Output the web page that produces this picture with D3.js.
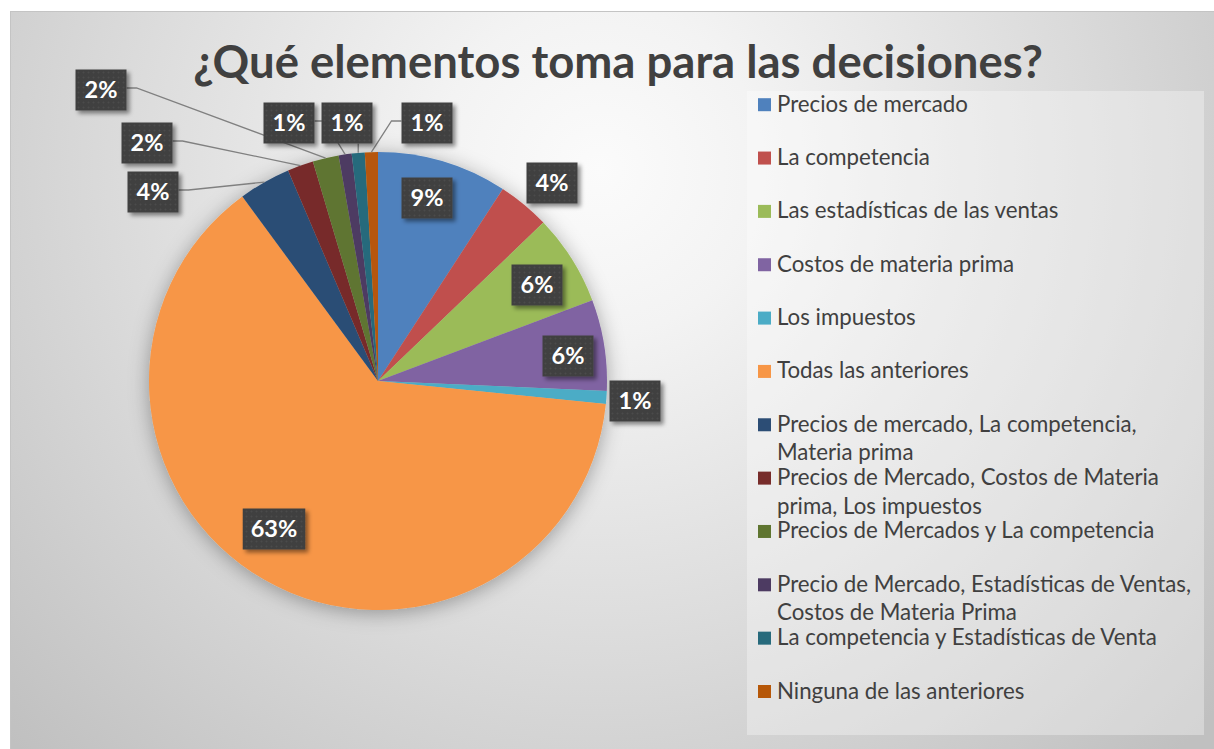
<!DOCTYPE html>
<html><head><meta charset="utf-8">
<script src="https://cdn.jsdelivr.net/npm/d3@7"></script>
<style>html,body{margin:0;padding:0;background:#fff;overflow:hidden}</style>
</head><body>
<svg id="chart" width="1214" height="749"></svg>
<script>
// ---------- data ----------
const title = "¿Qué elementos toma para las decisiones?";
const categories = [
  "Precios de mercado",
  "La competencia",
  "Las estadísticas de las ventas",
  "Costos de materia prima",
  "Los impuestos",
  "Todas las anteriores",
  "Precios de mercado, La competencia, Materia prima",
  "Precios de Mercado, Costos de Materia prima, Los impuestos",
  "Precios de Mercados y La competencia",
  "Precio de Mercado, Estadísticas de Ventas, Costos de Materia Prima",
  "La competencia y Estadísticas de Venta",
  "Ninguna de las anteriores"
];
const counts = [10, 4, 7, 7, 1, 69, 4, 2, 2, 1, 1, 1];
const colors = ["#4F81BD","#C0504D","#9BBB59","#8064A2","#4BACC6","#F79646",
                "#2C4D75","#772C2A","#5F7530","#4D3B62","#276A7C","#B65708"];

// ---------- layout ----------
const W = 1214, H = 749;
const cx = 378, cy = 381, R = 229;
const labelOffset = [[49,-183],[174,-198],[159,-96],[190,-25],[257,20],[-104,148],
                     [-225,-189],[-231,-238],[-277,-291],[-89,-258],[-31,-258],[49,-258]];
const leaderSide = [null,null,null,null,null,null,"right","right","right","right","bottom","left"];
const FONT = "Lato, 'Open Sans', 'DejaVu Sans', sans-serif";

const svg = d3.select("#chart");
const defs = svg.append("defs");

const grad = defs.append("radialGradient").attr("id","bg")
  .attr("gradientUnits","userSpaceOnUse").attr("cx",600).attr("cy",170).attr("r",820);
[[0,"#fbfbfb"],[0.2,"#f3f3f3"],[0.6,"#dadada"],[1,"#c0c0c0"]].forEach(([o,c]) =>
  grad.append("stop").attr("offset",o).attr("stop-color",c));

const pieShadow = defs.append("filter").attr("id","pieShadow")
  .attr("x","-30%").attr("y","-30%").attr("width","160%").attr("height","160%");
pieShadow.append("feDropShadow").attr("dx",0).attr("dy",3).attr("stdDeviation",10)
  .attr("flood-color","#000").attr("flood-opacity",0.33);

const boxShadow = defs.append("filter").attr("id","boxShadow")
  .attr("x","-30%").attr("y","-30%").attr("width","170%").attr("height","170%");
boxShadow.append("feDropShadow").attr("dx",3).attr("dy",3).attr("stdDeviation",2.2)
  .attr("flood-color","#000").attr("flood-opacity",0.45);

const pat = defs.append("pattern").attr("id","dots").attr("width",5).attr("height",5)
  .attr("patternUnits","userSpaceOnUse");
pat.append("rect").attr("width",5).attr("height",5).attr("fill","#3f3f3f");
pat.append("circle").attr("cx",2.5).attr("cy",2.5).attr("r",1).attr("fill","#4b4b4b");

// background
svg.append("rect").attr("width",W).attr("height",H).attr("fill","#fff");
svg.append("rect").attr("x",10.5).attr("y",11.5).attr("width",W-10).attr("height",H-11)
  .attr("fill","url(#bg)").attr("stroke","#c4c4c4").attr("stroke-width",1);

// measure helper
const measure = (txt, size, weight) => {
  const t = svg.append("text").attr("font-family",FONT).attr("font-size",size)
    .attr("font-weight",weight).text(txt);
  const w = t.node().getComputedTextLength(); t.remove(); return w;
};

// ---------- pie ----------
const total = d3.sum(counts);
const arcs = d3.pie().sort(null).value(d => d)(counts);
const arc = d3.arc().innerRadius(0).outerRadius(R);
const edgeArc = d3.arc().innerRadius(R).outerRadius(R);

const g = svg.append("g").attr("transform",`translate(${cx},${cy})`);
g.append("g").attr("filter","url(#pieShadow)")
  .selectAll("path").data(arcs).join("path")
  .attr("d",arc).attr("fill",(d,i) => colors[i]);

// ---------- labels ----------
const labelSize = 23.5;
const labels = arcs.map((d,i) => {
  const txt = Math.round(d.value/total*100) + "%";
  const w = Math.max(51, measure(txt, labelSize, "bold") + 16);
  return {i, txt, w, h: 41, x: labelOffset[i][0], y: labelOffset[i][1], end: edgeArc.centroid(d)};
});

// leader lines
const leaders = g.append("g");
labels.forEach(l => {
  const side = leaderSide[l.i];
  if (!side) return;
  let pts;
  if (side === "right") {
    const sx = l.x + l.w/2, sy = l.y - 2;
    pts = [[sx,sy],[sx+10,sy],l.end];
  } else if (side === "left") {
    const sx = l.x - l.w/2, sy = l.y - 2;
    pts = [[sx,sy],[sx-10,sy],l.end];
  } else {
    const sx = Math.max(l.x - l.w/2, Math.min(l.x + l.w/2, l.end[0]));
    pts = [[sx, l.y + l.h/2], l.end];
  }
  leaders.append("path").attr("d", d3.line()(pts))
    .attr("fill","none").attr("stroke","#808080").attr("stroke-width",1.3);
});

const lg = g.append("g").selectAll("g").data(labels).join("g")
  .attr("transform", d => `translate(${d.x},${d.y})`);
lg.append("rect").attr("x", d => -d.w/2).attr("y", d => -d.h/2)
  .attr("width", d => d.w).attr("height", d => d.h)
  .attr("fill","url(#dots)").attr("filter","url(#boxShadow)");
lg.append("text").attr("text-anchor","middle").attr("dy","0.36em")
  .attr("font-family",FONT).attr("font-weight","bold").attr("font-size",labelSize)
  .attr("fill","#fff").text(d => d.txt);

// ---------- legend ----------
svg.append("rect").attr("x",747).attr("y",91).attr("width",457).attr("height",644)
  .attr("fill","#fff").attr("fill-opacity",0.32);
const legSize = 20 * 191 / measure("Precios de mercado", 20, "normal");
const wrapW = 425;
const wrap = s => {
  const words = s.split(" "); const lines = []; let cur = "";
  words.forEach(w => {
    const test = cur ? cur + " " + w : w;
    if (cur && measure(test, legSize, "normal") > wrapW) { lines.push(cur); cur = w; }
    else cur = test;
  });
  lines.push(cur); return lines;
};
const legY = d3.scalePoint().domain(d3.range(categories.length)).range([111.7, 698.5]);
const leg = svg.append("g").selectAll("g").data(categories).join("g")
  .attr("transform",(d,i) => `translate(758,${legY(i)})`);
leg.append("rect").attr("x",0).attr("y",-13.5).attr("width",13).attr("height",13)
  .attr("fill",(d,i) => colors[i]);
leg.each(function(d){
  const t = d3.select(this).append("text").attr("font-family",FONT)
    .attr("font-size",legSize).attr("fill","#404040");
  wrap(d).forEach((line,k) =>
    t.append("tspan").attr("x",19).attr("y",k*28.5).text(line));
});

// ---------- title ----------
const titleSize = 40 * 850 / measure(title, 40, "bold");
svg.append("text").attr("x",618).attr("y",78).attr("text-anchor","middle")
  .attr("font-family",FONT).attr("font-weight","bold").attr("font-size",titleSize)
  .attr("fill","#404040").text(title);
</script>
</body></html>
